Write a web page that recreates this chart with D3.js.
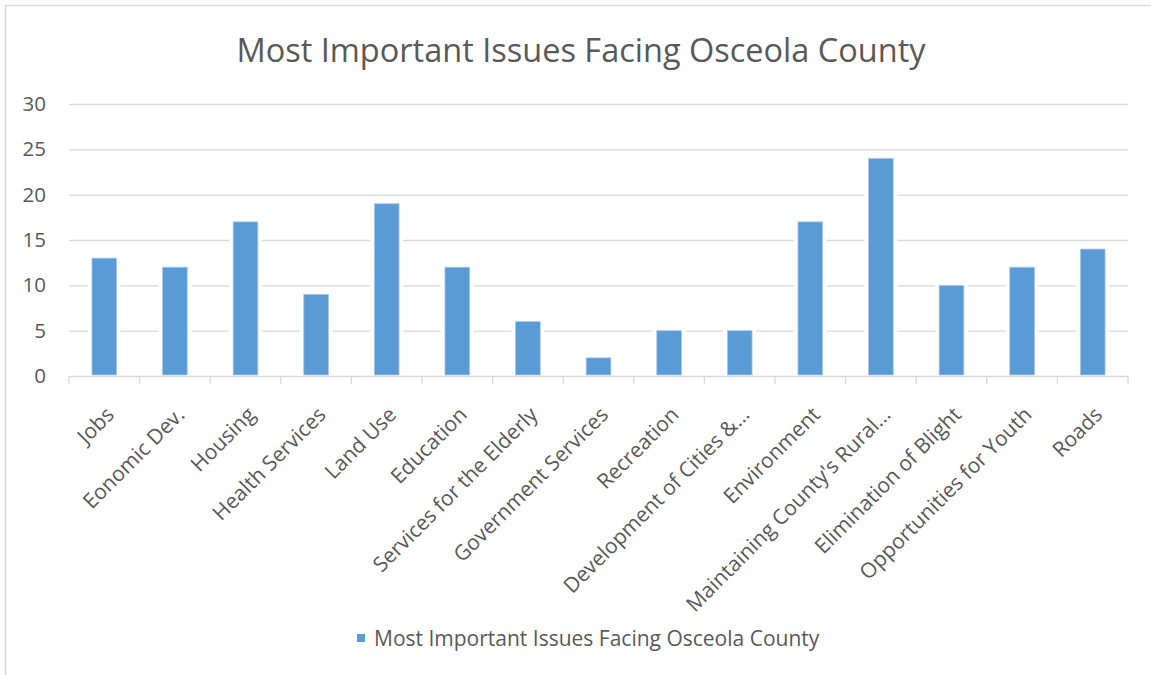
<!DOCTYPE html>
<html>
<head>
<meta charset="utf-8">
<script src="https://cdn.jsdelivr.net/npm/d3@7"></script>
<style>
  html, body { margin: 0; padding: 0; background: #fff; }
  svg { display: block; font-family: "Open Sans", "Noto Sans", sans-serif; }
</style>
</head>
<body>
<svg id="chart" width="1151" height="675"></svg>
<script>
// Survey responses: most important issues facing Osceola County
const categories = [
  "Jobs", "Eonomic Dev.", "Housing", "Health Services", "Land Use",
  "Education", "Services for the Elderly", "Government Services",
  "Recreation", "Development of Cities &…", "Environment",
  "Maintaining County's Rural…", "Elimination of Blight",
  "Opportunities for Youth", "Roads"
];
const values = [13, 12, 17, 9, 19, 12, 6, 2, 5, 5, 17, 24, 10, 12, 14];
const yTicks = [0, 5, 10, 15, 20, 25, 30];
const seriesName = "Most Important Issues Facing Osceola County";
const chartTitle = "Most Important Issues Facing Osceola County";

const W = 1151, H = 675;
const plot = { left: 69, right: 1128, top: 104, bottom: 376 };
const barColor = "#5b9bd5";
const gridColor = "#d9d9d9";
const textColor = "#595959";

const svg = d3.select("#chart");

// outer chart frame (only top and left edges fall inside the canvas)
svg.append("rect")
  .attr("x", 5.5).attr("y", 5.5)
  .attr("width", W + 20).attr("height", H + 20)
  .attr("fill", "#fff")
  .attr("stroke", gridColor).attr("stroke-width", 1.5);

const x = d3.scaleBand()
  .domain(categories)
  .range([plot.left, plot.right])
  .paddingInner(0.65)
  .paddingOuter(0.325);

const y = d3.scaleLinear()
  .domain([0, 30])
  .range([plot.bottom, plot.top]);

// title
svg.append("text")
  .attr("x", 581).attr("y", 62)
  .attr("text-anchor", "middle")
  .attr("fill", textColor)
  .style("font-size", "32.5px")
  .text(chartTitle);

// horizontal gridlines
svg.append("g")
  .selectAll("line")
  .data(yTicks.filter(t => t > 0))
  .join("line")
  .attr("x1", plot.left).attr("x2", plot.right)
  .attr("y1", d => y(d) + 0.5).attr("y2", d => y(d) + 0.5)
  .attr("stroke", gridColor).attr("stroke-width", 1.3);

// y axis labels
const yAxis = d3.axisLeft(y).tickValues(yTicks).tickSize(0).tickPadding(0);
const gy = svg.append("g")
  .attr("transform", `translate(${plot.left - 23},0)`)
  .call(yAxis);
gy.select(".domain").remove();
gy.selectAll("text")
  .attr("fill", textColor)
  .style("font-size", "20.5px")
  .style("font-family", "'Open Sans', sans-serif");

// white gap around bars (gridlines stop short of each bar)
svg.append("g")
  .selectAll("rect")
  .data(values)
  .join("rect")
  .attr("x", (d, i) => x(categories[i]) - 4)
  .attr("width", x.bandwidth() + 8)
  .attr("y", d => y(d) - 1)
  .attr("height", d => plot.bottom - y(d) + 1)
  .attr("fill", "#fff");

// bars
svg.append("g")
  .selectAll("rect")
  .data(values)
  .join("rect")
  .attr("x", (d, i) => x(categories[i]))
  .attr("width", x.bandwidth())
  .attr("y", d => y(d))
  .attr("height", d => plot.bottom - y(d) - 1)
  .attr("fill", barColor)
  .attr("stroke", "#a9c9ea")
  .attr("stroke-width", 0.8);

// category axis line with boundary ticks
const step = x.step();
const boundaries = d3.range(categories.length + 1).map(i => plot.left + i * step);
svg.append("line")
  .attr("x1", plot.left).attr("x2", plot.right)
  .attr("y1", plot.bottom + 0.5).attr("y2", plot.bottom + 0.5)
  .attr("stroke", gridColor).attr("stroke-width", 1.3);
svg.append("g")
  .selectAll("line")
  .data(boundaries)
  .join("line")
  .attr("x1", d => d).attr("x2", d => d)
  .attr("y1", plot.bottom).attr("y2", plot.bottom + 8)
  .attr("stroke", gridColor).attr("stroke-width", 1.3);

// rotated category labels
svg.append("g")
  .selectAll("text")
  .data(categories)
  .join("text")
  .attr("transform", d => `translate(${x(d) + x.bandwidth() / 2 + 11},416) rotate(-45)`)
  .attr("text-anchor", "end")
  .attr("fill", textColor)
  .style("font-size", "21px")
  .text(d => d);

// legend
const legend = svg.append("g").attr("transform", "translate(0,638)");
legend.append("rect")
  .attr("x", 357).attr("y", -4)
  .attr("width", 8).attr("height", 8)
  .attr("fill", barColor);
legend.append("text")
  .attr("x", 374).attr("y", 7.5)
  .attr("fill", textColor)
  .style("font-size", "21px")
  .text(seriesName);
</script>
</body>
</html>
